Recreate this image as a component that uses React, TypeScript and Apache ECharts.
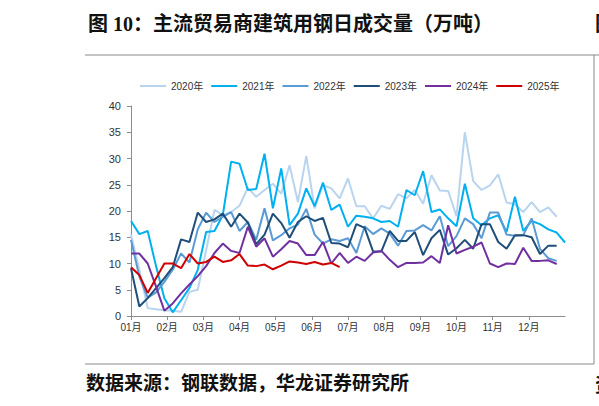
import React, { useEffect, useRef } from "react";
import * as echarts from "echarts";

const monthLabels = ["01月", "02月", "03月", "04月", "05月", "06月", "07月", "08月", "09月", "10月", "11月", "12月"];
const seriesNames = ["2020年", "2021年", "2022年", "2023年", "2024年", "2025年"];
const seriesColors = ["#B8D4EE", "#00B0F0", "#5B9BD5", "#1F4E79", "#7030A0", "#D00000"];

const y2020 = [15.5, 8.8, 1.5, 1.3, 1.1, 1.0, 0.8, 4.6, 5.0, 12.5, 20.2, 19.2, 19.8, 21.0, 24.4, 22.7, 24.0, 25.2, 23.3, 28.7, 21.7, 30.5, 20.5, 24.9, 24.3, 22.4, 26.2, 20.9, 20.9, 18.6, 21.0, 20.4, 23.2, 22.4, 24.0, 21.4, 26.8, 23.9, 23.8, 19.0, 35.0, 25.7, 24.0, 24.9, 27.0, 21.6, 21.3, 19.8, 21.7, 19.8, 20.7, 18.9];
const y2021 = [18.1, 15.6, 16.2, 9.5, 3.4, 0.7, 3.0, 5.3, 8.8, 16.0, 16.2, 19.2, 29.4, 29.0, 24.0, 24.2, 30.9, 20.5, 28.1, 17.3, 19.5, 24.3, 20.9, 25.4, 20.2, 21.2, 17.0, 19.1, 18.9, 18.6, 17.9, 18.1, 17.0, 24.0, 23.0, 27.6, 19.8, 20.3, 18.6, 17.1, 25.2, 18.6, 17.3, 18.6, 19.2, 16.0, 22.7, 16.2, 18.1, 17.5, 16.5, 15.9, 14.0];
const y2022 = [14.5, 7.5, 3.5, 4.5, 6.5, 8.8, 11.9, 10.2, 16.5, 19.7, 17.9, 18.9, 19.8, 16.2, 17.9, 14.5, 20.5, 14.4, 15.4, 16.7, 17.4, 20.4, 15.5, 13.8, 14.6, 14.3, 14.8, 12.0, 17.1, 15.6, 16.7, 15.7, 13.4, 16.2, 16.3, 17.3, 16.3, 19.0, 13.3, 15.2, 18.6, 17.5, 14.8, 19.7, 19.7, 15.5, 15.3, 15.4, 18.6, 12.8, 11.0, 10.5];
const y2023 = [9.1, 1.8, 3.4, 5.3, 7.2, 9.3, 14.6, 14.1, 19.7, 17.9, 18.4, 19.5, 17.0, 19.5, 17.8, 13.7, 15.5, 19.5, 17.7, 14.9, 17.9, 19.0, 18.1, 18.7, 13.9, 13.8, 13.1, 17.5, 16.8, 12.3, 12.3, 16.2, 14.3, 14.3, 16.0, 11.6, 14.8, 16.4, 11.7, 12.9, 14.5, 12.8, 17.5, 17.5, 14.1, 12.8, 15.4, 15.4, 15.0, 11.8, 13.4, 13.4];
const y2024 = [11.9, 11.9, 10.0, 5.6, 1.0, 2.4, 4.3, 6.0, 7.6, 9.5, 12.0, 13.8, 12.4, 12.0, 17.0, 13.2, 14.8, 11.3, 12.7, 14.3, 13.8, 11.6, 11.6, 14.1, 10.0, 12.0, 10.1, 11.3, 10.5, 12.1, 12.4, 10.7, 9.3, 10.1, 10.1, 10.2, 11.4, 10.1, 17.3, 11.9, 12.6, 13.2, 14.0, 10.0, 9.3, 10.0, 9.9, 13.0, 10.5, 10.5, 10.6, 9.9];
const y2025 = [9.3, 7.8, 4.4, 7.2, 10.0, 10.0, 9.1, 11.8, 10.0, 10.3, 11.3, 10.3, 10.6, 11.8, 9.6, 9.5, 9.8, 8.9, 9.6, 10.4, 10.2, 9.9, 10.3, 9.8, 10.1, 9.3];

const allSeries = [y2020, y2021, y2022, y2023, y2024, y2025];
const weeksPerYear = 52;

const titleText = "图 10：主流贸易商建筑用钢日成交量（万吨）";
const sourceText = "数据来源：钢联数据，华龙证券研究所";
const edgeTopChar = "图";
const edgeBottomChar = "资";

export default function App() {
  const ref = useRef<HTMLDivElement>(null);

  useEffect(() => {
    if (!ref.current) return;
    const chart = echarts.init(ref.current, undefined, { renderer: "svg" });
    const labelFont = "'Liberation Sans', Arial, 'Noto Sans CJK SC', sans-serif";
    const cjkFont = "'Liberation Serif', 'Noto Sans CJK SC', serif";
    const step = weeksPerYear / 12;

    chart.setOption({
      animation: false,
      backgroundColor: "#ffffff",
      legend: {
        data: seriesNames,
        left: 135,
        top: 76,
        icon: "rect",
        itemWidth: 26,
        itemHeight: 2,
        itemGap: 8,
        textStyle: { fontSize: 10, color: "#333", fontFamily: labelFont },
      },
      grid: { left: 131, right: 34, top: 106, bottom: 90, containLabel: false },
      xAxis: {
        type: "value",
        min: 0,
        max: weeksPerYear,
        interval: step,
        axisLine: { show: true, lineStyle: { color: "#8c8c8c", width: 1 } },
        axisTick: { show: true, length: 4, lineStyle: { color: "#8c8c8c" } },
        splitLine: { show: false },
        axisLabel: {
          margin: 6,
          fontSize: 10,
          color: "#333",
          fontFamily: labelFont,
          showMaxLabel: false,
          formatter: (v: number) => {
            const m = Math.round(v / step);
            return m < 12 ? monthLabels[m] : "";
          },
        },
      },
      yAxis: {
        type: "value",
        min: 0,
        max: 40,
        interval: 5,
        axisLine: { show: true, lineStyle: { color: "#8c8c8c", width: 1 } },
        axisTick: { show: true, length: 4, lineStyle: { color: "#8c8c8c" } },
        splitLine: { show: false },
        axisLabel: { margin: 10, fontSize: 11, color: "#333", fontFamily: labelFont },
      },
      series: allSeries.map((vals, k) => ({
        name: seriesNames[k],
        type: "line",
        symbol: "none",
        z: 2 + k,
        data: vals.map((v, i) => [i, v]),
        lineStyle: { color: seriesColors[k], width: 2 },
        itemStyle: { color: seriesColors[k] },
      })),
      graphic: [
        {
          type: "text",
          left: 88,
          top: 14,
          style: { text: titleText, font: `bold 20px ${cjkFont}`, fill: "#111" },
        },
        {
          type: "text",
          left: 595,
          top: 14,
          style: { text: edgeTopChar, font: `bold 20px ${cjkFont}`, fill: "#111" },
        },
        {
          type: "line",
          shape: { x1: 85, y1: 55, x2: 599, y2: 55 },
          style: { stroke: "#8a8a8a", lineWidth: 1 },
        },
        {
          type: "line",
          shape: { x1: 594, y1: 55, x2: 594, y2: 364 },
          style: { stroke: "#8a8a8a", lineWidth: 1 },
        },
        {
          type: "line",
          shape: { x1: 85, y1: 364, x2: 594, y2: 364 },
          style: { stroke: "#8a8a8a", lineWidth: 1 },
        },
        {
          type: "text",
          left: 86,
          top: 374,
          style: { text: sourceText, font: `bold 19px ${cjkFont}`, fill: "#111" },
        },
        {
          type: "text",
          left: 595,
          top: 376,
          style: { text: edgeBottomChar, font: `bold 19px ${cjkFont}`, fill: "#111" },
        },
      ],
    });

    return () => chart.dispose();
  }, []);

  return (
    <div
      ref={ref}
      style={{ position: "fixed", left: 0, top: 0, width: 599, height: 406, background: "#fff" }}
    />
  );
}
